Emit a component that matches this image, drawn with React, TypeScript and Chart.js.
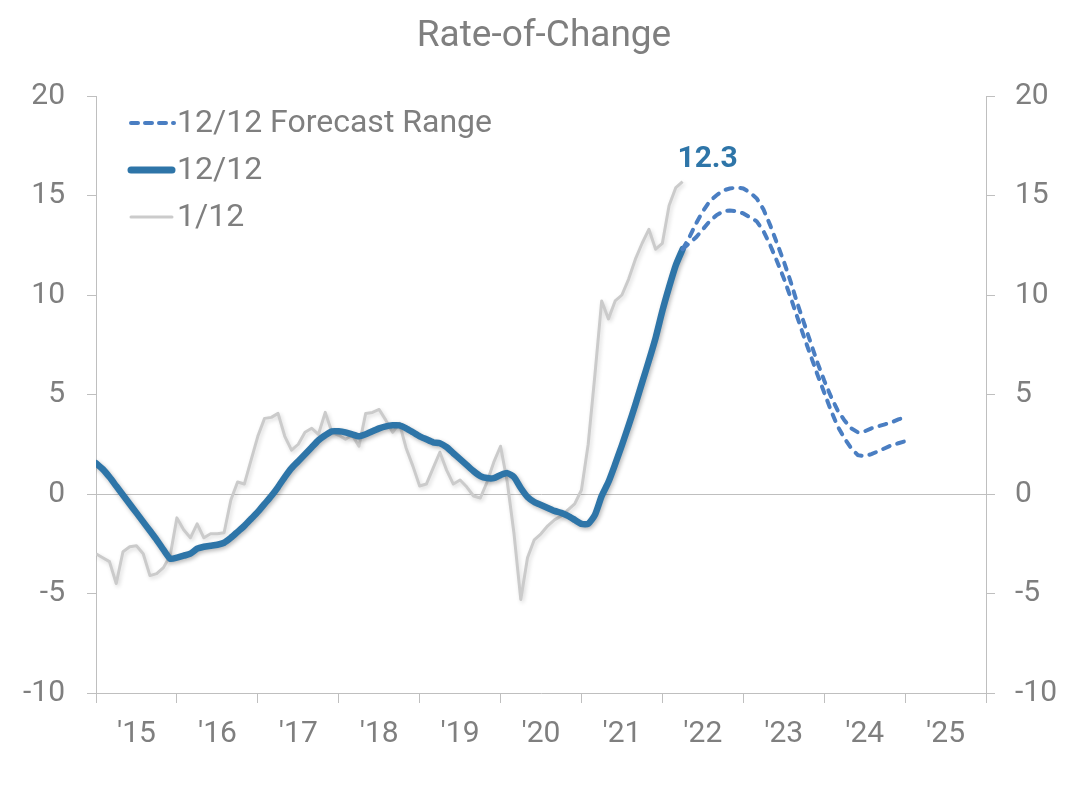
import React, { useEffect, useRef } from 'react';
import { Chart, registerables } from 'chart.js';

Chart.register(...registerables);

// ---- Data (monthly, index 0 = Jan 2015) ----
const titleText = 'Rate-of-Change';
const yearLabels = ["'15", "'16", "'17", "'18", "'19", "'20", "'21", "'22", "'23", "'24", "'25"];
const legendLabels = ['12/12 Forecast Range', '12/12', '1/12'];
const latestLabel = '12.3';

const rate1212 = [
  1.55, 1.25, 0.85, 0.4, -0.05, -0.5, -0.95, -1.4, -1.85, -2.3, -2.8, -3.25,
  -3.2, -3.1, -3.0, -2.75, -2.65, -2.6, -2.55, -2.45, -2.2, -1.9, -1.6, -1.25,
  -0.9, -0.5, -0.1, 0.35, 0.85, 1.3, 1.65, 2.0, 2.35, 2.7, 2.95, 3.15,
  3.15, 3.1, 3.0, 2.9, 3.0, 3.15, 3.3, 3.4, 3.45, 3.45, 3.3, 3.1,
  2.9, 2.75, 2.6, 2.55, 2.35, 2.05, 1.75, 1.45, 1.15, 0.9, 0.8, 0.8,
  0.95, 1.05, 0.85, 0.3, -0.15, -0.4, -0.55, -0.7, -0.85, -0.95, -1.1, -1.3,
  -1.5, -1.5, -1.05, -0.1, 0.6, 1.5, 2.45, 3.45, 4.5, 5.6, 6.7, 7.85,
  9.2, 10.4, 11.5, 12.3,
];

const rate112 = [
  -3.0, -3.2, -3.4, -4.5, -2.9, -2.65, -2.6, -3.0, -4.1, -4.0, -3.7, -3.1,
  -1.2, -1.8, -2.2, -1.5, -2.2, -2.0, -2.0, -1.95, -0.3, 0.6, 0.5, 1.7,
  2.9, 3.8, 3.85, 4.05, 2.9, 2.2, 2.5, 3.1, 3.3, 3.0, 4.1, 3.1,
  2.95, 2.75, 2.95, 2.4, 4.05, 4.1, 4.25, 3.7, 3.1, 3.55, 2.3, 1.4,
  0.4, 0.5, 1.3, 2.1, 1.2, 0.5, 0.7, 0.35, -0.1, -0.2, 0.6, 1.6,
  2.4, 0.6, -2.0, -5.3, -3.2, -2.3, -2.0, -1.6, -1.3, -1.1, -0.8, -0.5,
  0.2, 2.5, 6.0, 9.7, 8.8, 9.7, 10.0, 10.8, 11.8, 12.6, 13.3, 12.3,
  12.6, 14.5, 15.4, 15.7,
];

const forecastStart = 87;
const forecastHigh = [
  12.3, 12.9, 13.6, 14.2, 14.7, 15.0, 15.25, 15.35, 15.4, 15.35, 15.15, 14.85,
  14.3, 13.5, 12.6, 11.7, 10.7, 9.6, 8.6, 7.6, 6.6, 5.7, 4.9, 4.2,
  3.7, 3.3, 3.1, 3.15, 3.3, 3.4, 3.5, 3.6, 3.75, 3.85,
];
const forecastLow = [
  12.3, 12.6, 12.9, 13.3, 13.7, 14.0, 14.2, 14.25, 14.2, 14.1, 13.9, 13.7,
  13.2, 12.5, 11.7, 10.85, 9.9, 8.9, 7.9, 6.95, 6.0, 5.1, 4.2, 3.4,
  2.8, 2.3, 1.95, 1.9, 2.0, 2.15, 2.3, 2.45, 2.55, 2.65,
];

const yMin = -10;
const yMax = 20;
const yStep = 5;
const totalMonths = yearLabels.length * 12;

// ---- Styles ----
const BLUE = '#2E75A8';
const FC = '#4A7EC2';
const GRAY = '#CBCBCB';
const AXIS = '#BFBFBF';
const TXT = '#7F7F7F';
const FONT = 'Roboto, "Noto Sans", sans-serif';

const toPts = (arr: number[], start = 0) => arr.map((v, i) => ({ x: start + i, y: v }));

const shadowPlugin = {
  id: 'lineShadow',
  beforeDatasetDraw(chart: any, args: any) {
    if (args.index === 2 || args.index === 3) {
      const c = chart.ctx;
      c.save();
      c.shadowColor = args.index === 2 ? 'rgba(0,0,0,0.28)' : 'rgba(0,0,0,0.15)';
      c.shadowBlur = 4;
      c.shadowOffsetX = 1.5;
      c.shadowOffsetY = 2;
    }
  },
  afterDatasetDraw(chart: any, args: any) {
    if (args.index === 2 || args.index === 3) chart.ctx.restore();
  },
};

const textPlugin = {
  id: 'texts',
  afterDraw(chart: any) {
    const c = chart.ctx;
    const xs = chart.scales.x;
    const ys = chart.scales.y;
    c.save();
    // title
    c.fillStyle = TXT;
    c.font = `37px ${FONT}`;
    c.textAlign = 'center';
    c.textBaseline = 'middle';
    c.fillText(titleText, 544, 37);

    // legend
    const lx0 = 131;
    const lx1 = 172;
    const rows = [123, 170, 217];
    c.textAlign = 'left';
    c.lineCap = 'round';
    // forecast
    c.strokeStyle = FC;
    c.lineWidth = 4;
    c.setLineDash([7, 7]);
    c.beginPath();
    c.moveTo(lx0, rows[0]);
    c.lineTo(lx1 + 2, rows[0]);
    c.stroke();
    c.setLineDash([]);
    // 12/12
    c.strokeStyle = BLUE;
    c.lineWidth = 7;
    c.beginPath();
    c.moveTo(lx0, rows[1]);
    c.lineTo(lx1, rows[1]);
    c.stroke();
    // 1/12
    c.strokeStyle = GRAY;
    c.lineWidth = 3;
    c.beginPath();
    c.moveTo(lx0, rows[2]);
    c.lineTo(lx1, rows[2]);
    c.stroke();
    c.fillStyle = TXT;
    c.font = `32px ${FONT}`;
    legendLabels.forEach((t, i) => c.fillText(t, 177, rows[i] + 1));

    // latest value label
    const lastIdx = rate1212.length - 1;
    const px = xs.getPixelForValue(lastIdx) + 25;
    const py = ys.getPixelForValue(rate1212[lastIdx]) - 90;
    c.fillStyle = BLUE;
    c.font = `bold 30px ${FONT}`;
    c.textAlign = 'center';
    c.fillText(latestLabel, px, py);
    c.restore();
  },
};

export default function App() {
  const ref = useRef<HTMLCanvasElement | null>(null);

  useEffect(() => {
    if (!ref.current) return;
    const chart = new Chart(ref.current, {
      type: 'line',
      data: {
        datasets: [
          {
            label: legendLabels[0],
            data: toPts(forecastHigh, forecastStart),
            borderColor: FC,
            borderWidth: 4,
            borderDash: [7, 8],
            borderCapStyle: 'round',
            pointRadius: 0,
            tension: 0,
            fill: false,
          },
          {
            label: legendLabels[0] + ' low',
            data: toPts(forecastLow, forecastStart),
            borderColor: FC,
            borderWidth: 4,
            borderDash: [7, 8],
            borderCapStyle: 'round',
            pointRadius: 0,
            tension: 0,
            fill: false,
          },
          {
            label: legendLabels[1],
            data: toPts(rate1212),
            borderColor: BLUE,
            borderWidth: 6.5,
            borderCapStyle: 'round',
            borderJoinStyle: 'round',
            pointRadius: 0,
            tension: 0.2,
            fill: false,
          },
          {
            label: legendLabels[2],
            data: toPts(rate112),
            borderColor: GRAY,
            borderWidth: 3,
            borderJoinStyle: 'round',
            pointRadius: 0,
            tension: 0,
            fill: false,
          },
        ],
      },
      options: {
        animation: false,
        responsive: true,
        maintainAspectRatio: false,
        layout: { padding: { top: 96, left: 0, right: 0, bottom: 0 } },
        plugins: {
          legend: { display: false },
          title: { display: false },
          tooltip: { enabled: false },
        },
        scales: {
          x: {
            type: 'linear',
            min: 0,
            max: totalMonths,
            position: 'bottom',
            afterBuildTicks: (scale: any) => {
              scale.ticks = Array.from({ length: totalMonths / 6 + 1 }, (_, i) => ({ value: i * 6 }));
            },
            afterFit: (scale: any) => {
              scale.height = 94;
            },
            grid: {
              drawOnChartArea: false,
              drawTicks: true,
              tickLength: 10,
              color: (ctx: any) => (ctx.tick && ctx.tick.value % 12 === 0 ? AXIS : 'rgba(0,0,0,0)'),
              tickColor: (ctx: any) => (ctx.tick && ctx.tick.value % 12 === 0 ? AXIS : 'rgba(0,0,0,0)'),
            },
            border: { display: true, color: AXIS, width: 1 },
            ticks: {
              autoSkip: false,
              maxRotation: 0,
              padding: 13,
              color: TXT,
              font: { family: FONT, size: 30 },
              callback: (v: any) => (Number(v) % 12 === 6 ? yearLabels[(Number(v) - 6) / 12] : ''),
            },
          },
          y: {
            type: 'linear',
            position: 'left',
            min: yMin,
            max: yMax,
            afterFit: (scale: any) => {
              scale.width = 96;
            },
            grid: {
              drawOnChartArea: true,
              tickLength: 9,
              color: (ctx: any) => (ctx.tick && ctx.tick.value === 0 ? AXIS : 'rgba(0,0,0,0)'),
              tickColor: AXIS,
            },
            border: { display: true, color: AXIS, width: 1 },
            ticks: {
              stepSize: yStep,
              padding: 22,
              color: TXT,
              font: { family: FONT, size: 30 },
            },
          },
          y2: {
            type: 'linear',
            position: 'right',
            min: yMin,
            max: yMax,
            afterFit: (scale: any) => {
              scale.width = 99;
            },
            grid: {
              drawOnChartArea: false,
              tickLength: 9,
              tickColor: AXIS,
            },
            border: { display: true, color: AXIS, width: 1 },
            ticks: {
              stepSize: yStep,
              padding: 20,
              color: TXT,
              font: { family: FONT, size: 30 },
            },
          },
        },
      },
      plugins: [shadowPlugin, textPlugin],
    } as any);
    return () => chart.destroy();
  }, []);

  return (
    <div style={{ position: 'fixed', left: 0, top: 0, width: 1085, height: 787, background: '#fff' }}>
      <canvas ref={ref} />
    </div>
  );
}
